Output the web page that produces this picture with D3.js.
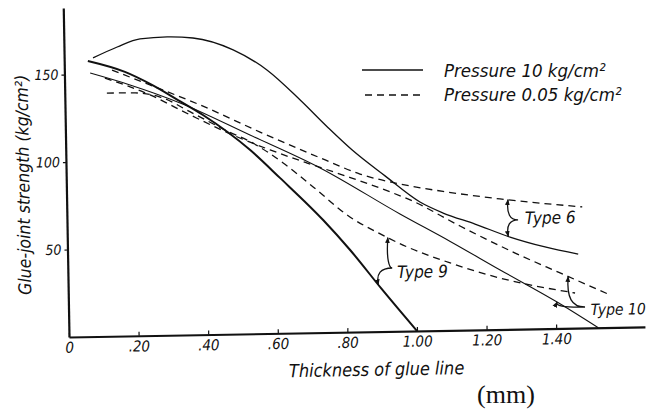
<!DOCTYPE html>
<meta charset="utf-8">
<script src="https://cdn.jsdelivr.net/npm/d3@7"></script>
<style>
  body { margin: 0; background: #fff; }
  text { font-family: "DejaVu Sans Condensed", "DejaVu Sans", sans-serif; font-style: italic; fill: #111; }
</style>
<div id="my_dataviz"></div>
<script>

// thickness of glue line (mm) vs glue-joint strength (kg/cm2)
var type6_10kg = [[0.083,159.2],[0.153,165.2],[0.219,169.6],[0.297,170.5],[0.371,169.6],[0.486,162.4],[0.582,150.6],[0.676,133.1],[0.755,117.0],[0.823,104.0],[0.916,88.9],[1.015,73.6],[1.081,67.1],[1.172,60.5],[1.272,52.7],[1.372,46.7],[1.467,42.3]];
var type9_10kg = [[0.068,157.5],[0.174,150.9],[0.251,143.2],[0.325,134.3],[0.396,125.5],[0.530,105.0],[0.614,88.8],[0.736,64.3],[0.812,46.9],[0.900,24.5],[1.0,0]];
var type10_10kg = [[0.074,150.6],[0.188,143.4],[0.331,132.6],[0.530,113.6],[0.730,94.1],[0.957,67.0],[1.100,50.8],[1.242,34.0],[1.404,15.1],[1.521,0]];

var type6_005kg = [[0.137,152.1],[0.245,143.2],[0.388,131.3],[0.559,115.2],[0.745,98.6],[0.844,90.2],[0.959,84.1],[1.093,79.1],[1.245,74.6],[1.481,69.2]];
var type9_005kg = [[0.121,139.0],[0.202,138.8],[0.274,136.2],[0.365,126.8],[0.459,116.7],[0.538,109.0],[0.624,97.3],[0.709,83.3],[0.813,65.8],[0.890,56.8],[0.964,49.2],[1.099,38.5],[1.241,29.4],[1.456,20.1]];
var type10_005kg = [[0.116,147.6],[0.245,137.5],[0.359,125.7],[0.487,113.2],[0.587,104.9],[0.693,97.0],[0.795,89.8],[0.930,79.7],[0.987,74.9],[1.129,59.5],[1.286,43.5],[1.414,31.7],[1.557,18.6]];

var xTicks = [0, 0.2, 0.4, 0.6, 0.8, 1.0, 1.2, 1.4];
var xTickLabels = ["0", ".20", ".40", ".60", ".80", "1.00", "1.20", "1.40"];
var yTicks = [50, 100, 150];

var legendLabels = ["Pressure 10 kg/cm²", "Pressure 0.05 kg/cm²"];

// brackets joining the two curves of each glue type
var typeLabels = ["Type 6", "Type 9", "Type 10"];
var bracketTop = [1.268, 0.921, 1.437];     // x on the 0.05 kg curve
var bracketBottom = [1.267, 0.891, 1.404];  // x on the 10 kg curve
var bracketNib = [[1.296, 62.4], [0.932, 36.2], [1.484, 12]];
var labelAt = [[1.316, 60], [0.946, 30.4], [1.500, 7.3]];

var margin = {top: 8, left: 69},
  width = 576,
  height = 329;

var svg = d3.select("#my_dataviz")
  .append("svg")
    .attr("width", 648)
    .attr("height", 410);

svg.append("defs").append("marker")
    .attr("id", "arrow")
    .attr("viewBox", "0 0 10 10")
    .attr("refX", 9).attr("refY", 5)
    .attr("markerWidth", 6).attr("markerHeight", 6)
    .attr("markerUnits", "userSpaceOnUse")
    .attr("orient", "auto-start-reverse")
  .append("path")
    .attr("d", "M0,1 L10,5 L0,9 z")
    .attr("fill", "#111");

// the scanned figure sits tilted by about one degree
var plot = svg.append("g")
    .attr("transform", "translate(" + margin.left + "," + margin.top + ") rotate(-1,0," + height + ")");

var x = d3.scaleLinear().domain([0, 1.655]).range([0, width]);
var y = d3.scaleLinear().domain([0, 188]).range([height, 0]);

var xAxis = plot.append("g")
  .attr("transform", "translate(0," + height + ")")
  .call(d3.axisBottom(x).tickValues(xTicks)
    .tickFormat(function(d, i) { return xTickLabels[i]; })
    .tickSizeInner(-4).tickSizeOuter(0).tickPadding(5));

var yAxis = plot.append("g")
  .call(d3.axisLeft(y).tickValues(yTicks)
    .tickSizeInner(3).tickSizeOuter(0).tickPadding(3));

[xAxis, yAxis].forEach(function(a) {
  a.select(".domain").attr("stroke", "#111").attr("stroke-width", 2.2);
  a.selectAll(".tick line").attr("stroke", "#111").attr("stroke-width", 1.2);
  a.selectAll("text").attr("fill", "#111")
    .style("font-family", '"DejaVu Sans Condensed", "DejaVu Sans", sans-serif')
    .style("font-style", "italic");
});
xAxis.selectAll("text").style("font-size", "15px");
yAxis.selectAll("text").style("font-size", "14px");

plot.append("text")
  .attr("text-anchor", "middle")
  .attr("x", 307).attr("y", height + 44)
  .style("font-size", "18px")
  .text("Thickness of glue line");

plot.append("text")
  .attr("text-anchor", "middle")
  .attr("transform", "translate(-37,176) rotate(-90)")
  .style("font-size", "17.5px")
  .text("Glue-joint strength (kg/cm²)");

var line = d3.line()
  .x(function(d) { return x(d[0]); })
  .y(function(d) { return y(d[1]); })
  .curve(d3.curveMonotoneX);

var curves = [
  {data: type6_10kg, dash: null, w: 1.3},
  {data: type9_10kg, dash: null, w: 2.0},
  {data: type10_10kg, dash: null, w: 1.1},
  {data: type6_005kg, dash: "7,5", w: 1.3},
  {data: type9_005kg, dash: "7,5", w: 1.3},
  {data: type10_005kg, dash: "7,5", w: 1.3}
];

plot.selectAll(".curve")
  .data(curves)
  .enter()
  .append("path")
    .attr("class", "curve")
    .attr("d", function(d) { return line(d.data); })
    .attr("fill", "none")
    .attr("stroke", "#111")
    .attr("stroke-width", function(d) { return d.w; })
    .attr("stroke-dasharray", function(d) { return d.dash; });

function yAt(data, v) {
  for (var i = 1; i < data.length; i++) {
    if (v <= data[i][0]) {
      var t = (v - data[i-1][0]) / (data[i][0] - data[i-1][0]);
      return data[i-1][1] + t * (data[i][1] - data[i-1][1]);
    }
  }
  return data[data.length - 1][1];
}

var pairs = [[type6_005kg, type6_10kg], [type9_005kg, type9_10kg], [type10_005kg, type10_10kg]];

typeLabels.forEach(function(name, i) {
  var T = [x(bracketTop[i]), y(yAt(pairs[i][0], bracketTop[i]))];
  var B = [x(bracketBottom[i]), y(yAt(pairs[i][1], bracketBottom[i]))];
  var N = [x(bracketNib[i][0]), y(bracketNib[i][1])];
  var p = d3.path();
  p.moveTo(T[0], T[1]);
  p.bezierCurveTo(T[0] - 2, T[1] + 0.7 * (N[1] - T[1]), T[0] + 0.2 * (N[0] - T[0]), N[1], N[0], N[1]);
  p.bezierCurveTo(B[0] + 0.2 * (N[0] - B[0]), N[1], B[0] - 2, B[1] - 0.7 * (B[1] - N[1]), B[0], B[1]);
  plot.append("path")
    .attr("d", p.toString())
    .attr("fill", "none")
    .attr("stroke", "#111")
    .attr("stroke-width", 1.3)
    .attr("marker-start", "url(#arrow)")
    .attr("marker-end", "url(#arrow)");
  plot.append("text")
    .attr("x", x(labelAt[i][0]))
    .attr("y", y(labelAt[i][1]))
    .style("font-size", i == 2 ? "15.5px" : "17px")
    .text(name);
});

// legend
var legend = svg.append("g").attr("transform", "translate(362,70)");
legendLabels.forEach(function(name, i) {
  legend.append("line")
    .attr("x1", i ? 3 : 0).attr("x2", i ? 63 : 61)
    .attr("y1", i * 25).attr("y2", i * 25)
    .attr("stroke", "#111").attr("stroke-width", 1.3)
    .attr("stroke-dasharray", i ? "7,5" : null);
  legend.append("text")
    .attr("x", 82).attr("y", i * 24 + 7)
    .style("font-size", "18.5px")
    .text(name);
});

svg.append("text")
  .attr("text-anchor", "middle")
  .attr("x", 506).attr("y", 403)
  .style("font-family", '"Liberation Serif", serif')
  .style("font-style", "normal")
  .style("font-size", "26px")
  .text("(mm)");

</script>
